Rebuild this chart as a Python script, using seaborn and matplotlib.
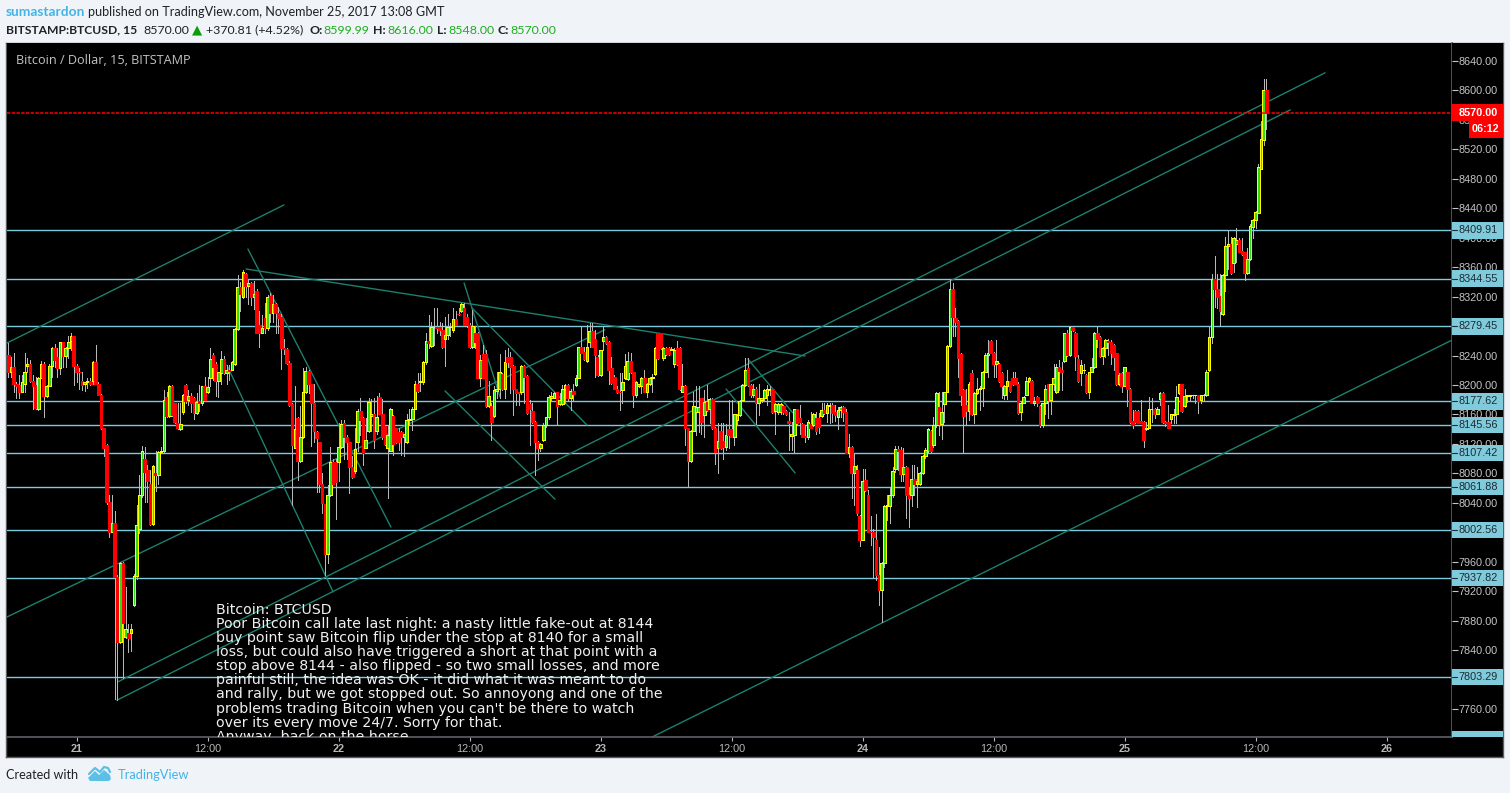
import matplotlib
matplotlib.use('Agg')
import matplotlib.pyplot as plt
from matplotlib.patches import Polygon, Rectangle
import pandas as pd
import seaborn as sns

# 15 minute candles, first one is Nov 20 ~17:45
opens = [
    8241,8217,8225,8201,8200,8191,8201,8226,8229,8206, 8200,8168,8210,8229,8185,8199,8226,8250,8238,8223,
    8258,8240,8250,8260,8266,8226,8218,8205,8201,8204, 8206,8205,8231,8202,8187,8141,8119,8041,8001,8013,
    7939,7851,7958,7858,7863,7863,7901,7941,8005,8050, 8100,8084,8065,8011,8080,8078,8109,8110,8184,8158,
    8198,8175,8149,8140,8163,8200,8180,8185,8182,8162, 8178,8175,8198,8190,8210,8241,8229,8206,8216,8235,
    8216,8220,8221,8228,8276,8333,8319,8351,8334,8339, 8320,8328,8282,8271,8291,8277,8321,8298,8310,8298,
    8292,8250,8249,8230,8174,8115,8155,8097,8130,8190, 8219,8201,8176,8136,8122,8066,8038,7971,8050,8096,
    8096,8096,8116,8148,8130,8122,8089,8083,8122,8165, 8155,8115,8137,8158,8161,8137,8184,8161,8144,8115,
    8111,8158,8141,8136,8136,8129,8122,8153,8154,8168, 8201,8204,8204,8231,8260,8253,8279,8279,8279,8275,
    8263,8268,8279,8274,8290,8297,8300,8304,8292,8281, 8251,8270,8270,8210,8242,8242,8171,8171,8158,8192,
    8195,8215,8195,8238,8238,8226,8194,8190,8190,8226, 8212,8174,8165,8150,8123,8115,8125,8145,8156,8183,
    8183,8190,8174,8174,8195,8200,8183,8192,8200,8210, 8251,8245,8232,8259,8273,8263,8238,8214,8260,8265,
    8259,8223,8211,8195,8191,8193,8209,8208,8232,8217, 8186,8198,8198,8210,8191,8202,8210,8215,8270,8270,
    8236,8250,8250,8248,8228,8250,8250,8191,8199,8141, 8097,8138,8163,8164,8182,8159,8177,8167,8181,8142,
    8114,8137,8124,8116,8140,8140,8130,8152,8159,8180, 8200,8223,8200,8186,8195,8175,8179,8182,8186,8193,
    8194,8165,8164,8164,8171,8165,8151,8131,8132,8167, 8155,8147,8131,8129,8147,8146,8155,8155,8158,8166,
    8162,8172,8173,8163,8156,8166,8170,8163,8108,8116, 8080,8085,8022,7990,8071,8051,8001,8000,7990,7942,
    7921,7958,8036,8036,8050,8086,8113,8112,8079,8089, 8050,8051,8072,8066,8065,8080,8103,8111,8138,8118,
    8145,8170,8147,8174,8191,8253,8331,8291,8287,8242, 8193,8173,8165,8216,8160,8189,8195,8196,8218,8241,
    8260,8244,8228,8228,8216,8187,8199,8205,8209,8210, 8202,8163,8176,8187,8205,8206,8175,8184,8171,8145,
    8175,8201,8180,8201,8190,8225,8220,8232,8270,8241, 8279,8270,8235,8216,8221,8214,8190,8218,8225,8270,
    8265,8239,8250,8260,8259,8254,8243,8201,8216,8199, 8217,8195,8151,8165,8165,8151,8150,8140,8142,8168,
    8168,8161,8181,8189,8150,8150,8154,8159,8160,8189, 8201,8171,8185,8185,8186,8186,8186,8179,8186,8186,
    8220,8265,8344,8330,8321,8296,8350,8389,8391,8366, 8392,8397,8382,8380,8352,8371,8415,8424,8434,8493,
    8533,8601,
]
closes = [
    8217,8225,8201,8199,8191,8204,8218,8229,8206,8199, 8169,8209,8229,8185,8199,8226,8250,8234,8223,8258,
    8240,8250,8258,8266,8226,8217,8217,8200,8204,8206, 8202,8231,8202,8187,8141,8115,8041,8001,8013,7939,
    7851,7958,7877,7869,7857,7869,7941,8010,8050,8110, 8082,8070,8011,8090,8078,8109,8110,8179,8158,8198,
    8159,8150,8142,8147,8187,8178,8185,8175,8162,8177, 8175,8198,8180,8197,8235,8225,8206,8217,8235,8216,
    8221,8219,8231,8276,8333,8324,8354,8334,8339,8320, 8324,8271,8271,8277,8277,8320,8298,8310,8298,8291,
    8250,8249,8230,8173,8118,8140,8097,8130,8190,8219, 8201,8176,8138,8128,8065,8040,7971,8050,8096,8066,
    8068,8116,8147,8130,8122,8089,8075,8113,8165,8153, 8108,8125,8177,8161,8125,8157,8161,8129,8120,8132,
    8168,8120,8122,8123,8129,8133,8153,8154,8168,8201, 8192,8205,8231,8260,8257,8279,8279,8278,8275,8251,
    8268,8279,8279,8289,8282,8296,8310,8282,8281,8251, 8280,8259,8210,8234,8210,8171,8185,8150,8193,8195,
    8217,8195,8231,8231,8225,8194,8189,8189,8226,8211, 8162,8168,8150,8122,8115,8120,8146,8156,8184,8185,
    8189,8171,8180,8195,8200,8182,8192,8188,8210,8251, 8244,8235,8252,8273,8252,8241,8214,8248,8265,8257,
    8220,8203,8195,8191,8190,8204,8226,8232,8217,8186, 8204,8201,8210,8191,8202,8210,8211,8250,8236,8250,
    8250,8242,8242,8249,8248,8228,8195,8199,8141,8097, 8138,8172,8170,8170,8150,8177,8166,8181,8141,8109,
    8124,8114,8116,8132,8132,8130,8160,8159,8178,8200, 8220,8200,8186,8195,8175,8182,8182,8193,8194,8194,
    8163,8174,8174,8174,8164,8160,8148,8133,8167,8148, 8150,8130,8129,8150,8142,8160,8138,8143,8166,8162,
    8173,8173,8162,8159,8166,8170,8163,8108,8116,8080, 8090,8026,7990,8070,8057,8001,8000,7993,7942,7921,
    7958,8036,8037,8050,8083,8113,8111,8079,8089,8050, 8046,8072,8066,8070,8080,8103,8112,8140,8111,8145,
    8189,8147,8163,8190,8253,8331,8292,8286,8237,8187, 8158,8165,8202,8160,8189,8195,8196,8218,8241,8244,
    8244,8228,8232,8205,8199,8199,8205,8192,8201,8202, 8162,8176,8184,8205,8209,8176,8178,8176,8145,8175,
    8194,8180,8201,8209,8225,8219,8218,8270,8241,8279, 8275,8240,8206,8227,8221,8190,8217,8225,8270,8263,
    8239,8250,8261,8259,8243,8238,8201,8214,8199,8224, 8195,8150,8146,8150,8149,8149,8125,8142,8168,8168,
    8161,8168,8189,8150,8149,8142,8160,8160,8184,8201, 8165,8185,8186,8186,8186,8186,8178,8186,8186,8218,
    8265,8344,8330,8320,8300,8350,8389,8391,8352,8400, 8397,8381,8378,8352,8371,8416,8424,8435,8496,8534,
    8601,8570,
]
highs = [
    8257,8238,8243,8204,8214,8214,8243,8236,8234,8214, 8211,8211,8232,8231,8200,8228,8251,8255,8250,8259,
    8259,8252,8266,8270,8267,8228,8223,8218,8204,8209, 8209,8232,8254,8204,8188,8142,8120,8051,8051,8029,
    7942,7959,7959,7926,7876,7876,7944,8037,8078,8117, 8116,8091,8085,8091,8110,8110,8116,8193,8191,8200,
    8200,8176,8175,8175,8188,8201,8193,8189,8184,8189, 8200,8199,8211,8211,8250,8243,8231,8218,8246,8240,
    8227,8227,8232,8277,8350,8340,8356,8352,8344,8340, 8341,8331,8300,8295,8312,8322,8325,8322,8311,8306,
    8296,8262,8250,8232,8175,8199,8157,8171,8223,8225, 8220,8202,8202,8137,8123,8080,8039,8064,8116,8099,
    8099,8148,8152,8152,8132,8123,8103,8141,8168,8182, 8156,8155,8182,8181,8182,8185,8189,8181,8146,8146,
    8169,8159,8142,8141,8137,8134,8160,8168,8170,8205, 8216,8216,8232,8270,8295,8286,8305,8304,8286,8284,
    8293,8297,8284,8304,8300,8304,8312,8311,8297,8284, 8302,8279,8272,8241,8254,8248,8205,8175,8198,8218,
    8242,8216,8248,8250,8245,8227,8195,8190,8227,8227, 8214,8180,8175,8151,8124,8121,8148,8157,8186,8191,
    8191,8191,8189,8200,8202,8201,8195,8202,8214,8252, 8279,8252,8281,8284,8284,8275,8241,8248,8279,8266,
    8260,8238,8214,8198,8216,8216,8242,8245,8243,8218, 8205,8202,8211,8221,8203,8211,8215,8251,8271,8271,
    8252,8252,8251,8251,8250,8260,8251,8228,8200,8142, 8139,8191,8198,8199,8183,8193,8200,8182,8182,8143,
    8148,8148,8148,8147,8180,8180,8161,8161,8180,8201, 8236,8236,8201,8202,8197,8202,8183,8195,8200,8198,
    8195,8175,8175,8175,8173,8166,8164,8150,8168,8168, 8173,8148,8146,8152,8164,8162,8164,8162,8176,8175,
    8176,8175,8175,8173,8170,8171,8171,8167,8134,8117, 8106,8091,8023,8086,8086,8058,8022,8005,8025,7980,
    7959,8037,8050,8062,8088,8117,8117,8116,8114,8090, 8060,8092,8092,8089,8082,8105,8114,8142,8139,8156,
    8191,8191,8191,8191,8254,8343,8338,8304,8288,8243, 8194,8195,8204,8221,8190,8209,8198,8219,8243,8261,
    8261,8245,8261,8230,8217,8200,8220,8206,8218,8218, 8204,8178,8185,8211,8211,8207,8184,8185,8173,8176,
    8200,8202,8202,8229,8229,8234,8231,8271,8275,8280, 8280,8272,8241,8234,8228,8215,8218,8236,8272,8279,
    8266,8251,8262,8262,8261,8255,8244,8216,8217,8225, 8218,8196,8166,8166,8166,8180,8151,8150,8184,8182,
    8169,8170,8190,8190,8151,8173,8161,8168,8198,8202, 8202,8195,8187,8187,8187,8187,8187,8187,8188,8220,
    8279,8351,8375,8351,8351,8351,8401,8410,8401,8401, 8413,8399,8400,8381,8386,8419,8425,8436,8500,8558,
    8615,8615,
]
lows = [
    8211,8211,8191,8182,8183,8190,8191,8218,8204,8168, 8167,8166,8209,8156,8184,8198,8211,8225,8211,8215,
    8225,8225,8236,8248,8200,8204,8195,8193,8192,8196, 8200,8202,8201,8186,8140,8104,8039,7993,8000,7773,
    7772,7849,7802,7856,7838,7839,7900,7937,7999,8048, 8041,8041,8010,8010,8056,8066,8107,8108,8157,8157,
    8158,8149,8140,8139,8161,8175,8173,8164,8154,8160, 8165,8173,8179,8189,8198,8207,8185,8184,8202,8215,
    8202,8207,8220,8227,8275,8300,8318,8319,8310,8308, 8303,8270,8251,8270,8270,8275,8286,8286,8270,8270,
    8222,8242,8229,8172,8037,8114,8071,8096,8128,8189, 8189,8117,8123,8055,8055,8026,7942,7958,8049,8065,
    8018,8069,8115,8099,8100,8053,8074,8081,8111,8132, 8091,8114,8136,8137,8115,8134,8160,8127,8119,8047,
    8110,8105,8121,8112,8105,8104,8121,8146,8139,8167, 8191,8192,8202,8229,8250,8252,8254,8270,8268,8250,
    8226,8262,8266,8272,8281,8295,8299,8280,8279,8250, 8250,8250,8209,8199,8209,8170,8170,8125,8157,8182,
    8182,8193,8182,8225,8189,8159,8173,8173,8188,8175, 8161,8118,8148,8078,8098,8111,8124,8143,8154,8180,
    8182,8147,8173,8173,8175,8180,8166,8180,8199,8209, 8243,8234,8231,8252,8251,8211,8212,8212,8248,8256,
    8202,8202,8194,8189,8166,8175,8208,8207,8216,8170, 8184,8197,8189,8190,8184,8200,8191,8214,8235,8249,
    8234,8241,8241,8247,8224,8227,8193,8190,8118,8061, 8096,8137,8132,8136,8134,8129,8165,8148,8140,8093,
    8081,8113,8100,8112,8114,8129,8118,8146,8158,8179, 8199,8199,8184,8184,8147,8159,8177,8180,8173,8186,
    8162,8134,8161,8161,8161,8159,8112,8112,8109,8146, 8134,8129,8123,8127,8141,8144,8134,8135,8157,8161,
    8150,8149,8150,8151,8140,8157,8151,8107,8102,8046, 8037,8023,7982,7989,8056,8000,7983,7939,7935,7901,
    7878,7953,8017,8013,8048,8082,8084,8069,8069,8019, 8007,8036,8051,8034,8064,8079,8101,8109,8109,8116,
    8143,8132,8127,8150,8190,8252,8266,8266,8211,8173, 8107,8145,8152,8159,8148,8188,8166,8171,8217,8211,
    8243,8211,8211,8204,8182,8181,8181,8191,8200,8201, 8161,8152,8175,8186,8204,8175,8173,8172,8143,8143,
    8160,8155,8160,8193,8189,8193,8193,8231,8240,8239, 8273,8220,8204,8200,8216,8189,8183,8217,8223,8251,
    8238,8229,8238,8241,8229,8220,8200,8200,8191,8198, 8171,8149,8142,8149,8148,8148,8116,8139,8141,8150,
    8155,8160,8173,8149,8144,8141,8148,8148,8148,8188, 8164,8170,8177,8180,8182,8176,8162,8176,8180,8185,
    8219,8257,8306,8305,8281,8295,8327,8358,8351,8354, 8367,8380,8376,8343,8351,8370,8399,8413,8433,8532,
    8526,8548,
]

price_ticks = [7760, 7800, 7840, 7880, 7920, 7960, 8000, 8040, 8080, 8120, 8160, 8200, 8240,
               8280, 8320, 8360, 8400, 8440, 8480, 8520, 8560, 8600, 8640]
levels = [8409.91, 8344.55, 8279.45, 8177.62, 8145.56, 8107.42, 8061.88, 8002.56, 7937.82, 7803.29]
last_price = 8570.00

# one candle per 15 min, so 96 per day
time_ticks = [25, 73, 121, 169, 217, 265, 313, 361, 409, 457, 505]
time_labels = ['21', '12:00', '22', '12:00', '23', '12:00', '24', '12:00', '25', '12:00', '26']

# channel and trend lines: candle number and price at each end
trend_x0 = [-0.5, -0.5, 40.2, 39.8, 235.9, 87.1, 87.8, 80.1, 167, 169.9, 160, 271, 263]
trend_y0 = [8257, 7885, 7797, 7772, 7722, 8357.5, 8384.7, 8227, 8338.5, 8304.6, 8192, 8235.3, 8194.6]
trend_x1 = [101, 218.6, 482.5, 469.7, 529, 292, 140.2, 119, 180.2, 212, 200.3, 287.5, 288.3]
trend_y1 = [8444.5, 8275, 8624, 8573.5, 8261, 8239.4, 8007, 7919, 8183.7, 8145.7, 8045, 8162, 8080.5]

note = ("Bitcoin: BTCUSD\n"
        "Poor Bitcoin call late last night: a nasty little fake-out at 8144\n"
        "buy point saw Bitcoin flip under the stop at 8140 for a small\n"
        "loss, but could also have triggered a short at that point with a\n"
        "stop above 8144 - also flipped - so two small losses, and more\n"
        "painful still, the idea was OK - it did what it was meant to do\n"
        "and rally, but we got stopped out. So annoyong and one of the\n"
        "problems trading Bitcoin when you can't be there to watch\n"
        "over its every move 24/7. Sorry for that.\n"
        "Anyway, back on the horse")

W, H = 1510, 793
BG = '#f0f3f8'
GREY = '#b8b8b8'
LEVEL = '#7fcbdc'
TEAL = '#1d7f6d'
BLUE = '#42b4e6'
RED = '#ff0000'

sns.set_theme(style='dark', rc={'axes.facecolor': 'black', 'figure.facecolor': BG})
plt.rcParams['font.family'] = ['Liberation Sans', 'DejaVu Sans']

candles = pd.DataFrame({'open': opens, 'high': highs, 'low': lows, 'close': closes})
candles['n'] = candles.index
rising = candles['close'] >= candles['open']
wicks = candles.melt(id_vars='n', value_vars=['low', 'high'], value_name='price')

trends = pd.DataFrame({'line': list(range(len(trend_x0))) * 2,
                       'x': trend_x0 + trend_x1,
                       'y': trend_y0 + trend_y1})

fig = plt.figure(figsize=(W / 100, H / 100), dpi=100)


def box(x0, y0, x1, y1):
    return [x0 / W, 1 - y1 / H, (x1 - x0) / W, (y1 - y0) / H]


# black frame behind the chart, price scale and time scale
frame = fig.add_axes(box(6, 43, 1503, 757))
frame.set_xticks([])
frame.set_yticks([])
frame.set_facecolor('black')
for s in frame.spines.values():
    s.set_color('#5a5d63')
    s.set_linewidth(1)

ax = fig.add_axes(box(7, 43, 1452, 737))
ax.set_facecolor('black')
ax.set_xlim(-0.48, 529)
ax.set_ylim(7722, 8664.4)

for lv in levels:
    ax.axhline(lv, color=LEVEL, lw=1.0, zorder=1)
sns.lineplot(data=trends, x='x', y='y', units='line', estimator=None, sort=False,
             color=TEAL, linewidth=1.0, legend=False, ax=ax, zorder=1)
sns.lineplot(data=wicks, x='n', y='price', units='n', estimator=None, color=GREY,
             linewidth=0.5, legend=False, ax=ax, zorder=2, antialiased=False)
# bodies go in time order so later candles sit on top, like on the site
ax.bar(candles['n'], (candles['close'] - candles['open']).abs(),
       bottom=candles[['open', 'close']].min(axis=1), width=0.98,
       color=['#2fdc12' if r else RED for r in rising],
       edgecolor=['#ffff00' if r else RED for r in rising],
       linewidth=0.72, antialiased=False, zorder=3)
ax.axhline(last_price, color=RED, lw=1.1, ls=(0, (2.2, 0.9)), zorder=4)

ax.text(0.0065, 0.9755, 'Bitcoin / Dollar, 15, BITSTAMP', transform=ax.transAxes, color='#c4c4c4',
        fontsize=9.1, family='Open Sans', ha='left', va='center', zorder=6)
ax.text(76.1, 7904, note, color='#f0f0f0', fontsize=10.2, family='DejaVu Sans', va='top', ha='left',
        linespacing=1.007, clip_on=True, zorder=6)

ax.set_xticks(time_ticks)
ax.set_xticklabels(time_labels)
for t, lab in zip(ax.get_xticklabels(), time_labels):
    t.set_fontweight('bold' if ':' not in lab else 'normal')
ax.tick_params(axis='x', colors=GREY, length=3, width=0.8, labelsize=7.8, pad=2, bottom=True)
ax.set_yticks([])
ax.set_xlabel('')
ax.set_ylabel('')
for side in ['top', 'left']:
    ax.spines[side].set_visible(False)
ax.spines['bottom'].set_color('#5a5d63')
ax.spines['right'].set_color('#5a5d63')

# price scale on the right, shares y with the chart
pax = fig.add_axes(box(1452, 43, 1503, 737), sharey=ax)
pax.set_facecolor('black')
pax.set_xticks([])
pax.set_yticks(price_ticks)
pax.set_yticklabels([f'{v:.2f}' for v in price_ticks], ha='left')
pax.tick_params(axis='y', direction='in', length=4, width=0.8, colors='#c4c4c4', labelsize=7.8, pad=-5, left=True)
pax.set_ylim(7722, 8664.4)
for s in pax.spines.values():
    s.set_visible(False)

for lv in levels:
    pax.text(0.52, lv, f'{lv:.2f}', transform=pax.get_yaxis_transform(), color='#1c2b33', fontsize=7.8,
             ha='center', va='center', zorder=6)
    pax.add_patch(Rectangle((0, lv - 11), 1, 22, transform=pax.get_yaxis_transform(),
                            facecolor=LEVEL, edgecolor='none', zorder=5))
    pax.plot([0, 0.09], [lv, lv], transform=pax.get_yaxis_transform(), color='#1c2b33', lw=0.8, zorder=6)
# level under the visible range, only the top of its label shows
pax.add_patch(Rectangle((0, 7722), 1, 8, transform=pax.get_yaxis_transform(),
                        facecolor=LEVEL, edgecolor='none', zorder=5))

pax.add_patch(Rectangle((0, last_price - 11), 1, 22, transform=pax.get_yaxis_transform(),
                        facecolor=RED, edgecolor='none', zorder=5))
pax.text(0.52, last_price, f'{last_price:.2f}', transform=pax.get_yaxis_transform(), color='white',
         fontsize=7.8, fontweight='bold', ha='center', va='center', zorder=6)
pax.add_patch(Rectangle((0.33, last_price - 34), 0.67, 22, transform=pax.get_yaxis_transform(),
                        facecolor=RED, edgecolor='none', zorder=5))
pax.text(0.665, last_price - 23, '06:12', transform=pax.get_yaxis_transform(), color='white',
         fontsize=7.8, fontweight='bold', ha='center', va='center', zorder=6)


def label(x, y, s, size=8.9, **kw):
    fig.text(x / W, 1 - y / H, s, va='center', ha='left', family='Lato', fontsize=size, **kw)


DARK = '#1f2328'
GREEN = '#1eae1e'
label(6, 12, 'sumastardon', size=9.9, color=BLUE, fontweight='bold')
label(88.5, 12, 'published on TradingView.com, November 25, 2017 13:08 GMT', size=9.05, color=DARK)
label(6, 30, 'BITSTAMP:BTCUSD, 15', size=8.7, color=DARK, fontweight='bold')
label(143, 30, '8570.00', color=DARK)
fig.text(197 / W, 1 - 30 / H, '\u25b2', color='#0a9e0a', fontsize=9.5, family='DejaVu Sans', ha='center', va='center')
label(206, 30, '+370.81 (+4.52%)', color=DARK)
label(309, 30, 'O:', color=DARK, fontweight='bold')
label(323, 30, '8599.99', color=GREEN)
label(373, 30, 'H:', color=DARK, fontweight='bold')
label(387, 30, '8616.00', color=GREEN)
label(437, 30, 'L:', color=DARK, fontweight='bold')
label(448, 30, '8548.00', color=GREEN)
label(498, 30, 'C:', color=DARK, fontweight='bold')
label(510, 30, '8570.00', color=GREEN)
label(6, 775, 'Created with', size=9.1, color=DARK)
label(118, 775, 'TradingView', size=9.3, color=BLUE)

# small TradingView cloud next to the name
logo_pts = [(88, 778), (95, 771), (99, 775), (104, 770), (110, 775), (111, 779), (109, 781), (90, 781)]
fig.add_artist(Polygon([(x / W, 1 - y / H) for x, y in logo_pts], closed=True, facecolor='#5cbfe6',
                       edgecolor='none', transform=fig.transFigure))
top_pts = [(89, 774), (95, 768), (100, 772), (104, 767), (108, 768), (110, 772)]
fig.add_artist(plt.Line2D([x / W for x, y in top_pts], [1 - y / H for x, y in top_pts], color='#5cbfe6',
                          lw=1.6, transform=fig.transFigure))

fig.savefig('out.png', dpi=100, facecolor=BG)
